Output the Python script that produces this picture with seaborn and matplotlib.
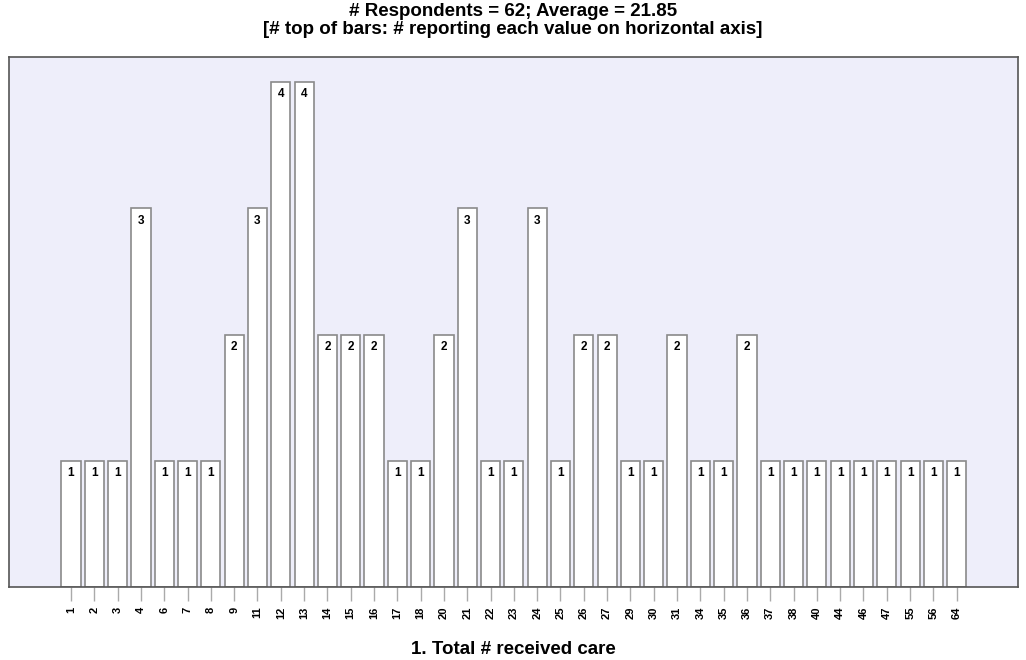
import pandas as pd
import seaborn as sns
import matplotlib.pyplot as plt

# values on horizontal axis and number of respondents reporting each
values = ["1", "2", "3", "4", "6", "7", "8", "9", "11", "12", "13", "14", "15",
          "16", "17", "18", "20", "21", "22", "23", "24", "25", "26", "27", "29",
          "30", "31", "34", "35", "36", "37", "38", "40", "44", "46", "47", "55",
          "56", "64"]
counts = [1, 1, 1, 3, 1, 1, 1, 2, 3, 4, 4, 2, 2, 2, 1, 1, 2, 3, 1, 1, 3, 1, 2,
          2, 1, 1, 2, 1, 1, 2, 1, 1, 1, 1, 1, 1, 1, 1, 1]

df = pd.DataFrame({"value": values, "count": counts})

sns.set_style("white")
plt.rcParams['font.family'] = ['Liberation Sans', 'DejaVu Sans']
plt.rcParams['text.color'] = 'black'
plt.rcParams['xtick.labelcolor'] = 'black'

fig = plt.figure(figsize=(10.26, 6.6), dpi=100)
ax = fig.add_axes([0.0088, 0.1106, 0.9832, 0.803])
ax.set_facecolor("#eeeefa")

sns.barplot(data=df, x="value", y="count", order=values, color="white",
            edgecolor="#8a8a8a", linewidth=1.2, width=0.82, saturation=1, ax=ax)

for c in ax.containers:
    ax.bar_label(c, padding=-13, fontsize=8.5, fontweight="bold", color="black")

ax.set_xlim(-2.66, 40.62)
ax.set_ylim(0, 4.2)
ax.set_yticks([])
ax.set_ylabel("")
ax.set_xlabel("1. Total # received care", fontsize=13.5, fontweight="bold",
              labelpad=16, color="black")
ax.tick_params(axis="x", rotation=90, labelsize=8, length=10, width=1,
               color="#aaaaaa", direction="out", bottom=True, pad=4)
for lab in ax.get_xticklabels():
    lab.set_fontweight("bold")
for s in ax.spines.values():
    s.set_color("#555555")
    s.set_linewidth(1.2)

fig.text(0.5, 1 - 12 / 660, "# Respondents = 62; Average = 21.85", ha="center",
         va="center", fontsize=13.5, fontweight="bold")
fig.text(0.5, 1 - 30 / 660, "[# top of bars: # reporting each value on horizontal axis]",
         ha="center", va="center", fontsize=13.5, fontweight="bold")

fig.savefig("out.png", dpi=100)
